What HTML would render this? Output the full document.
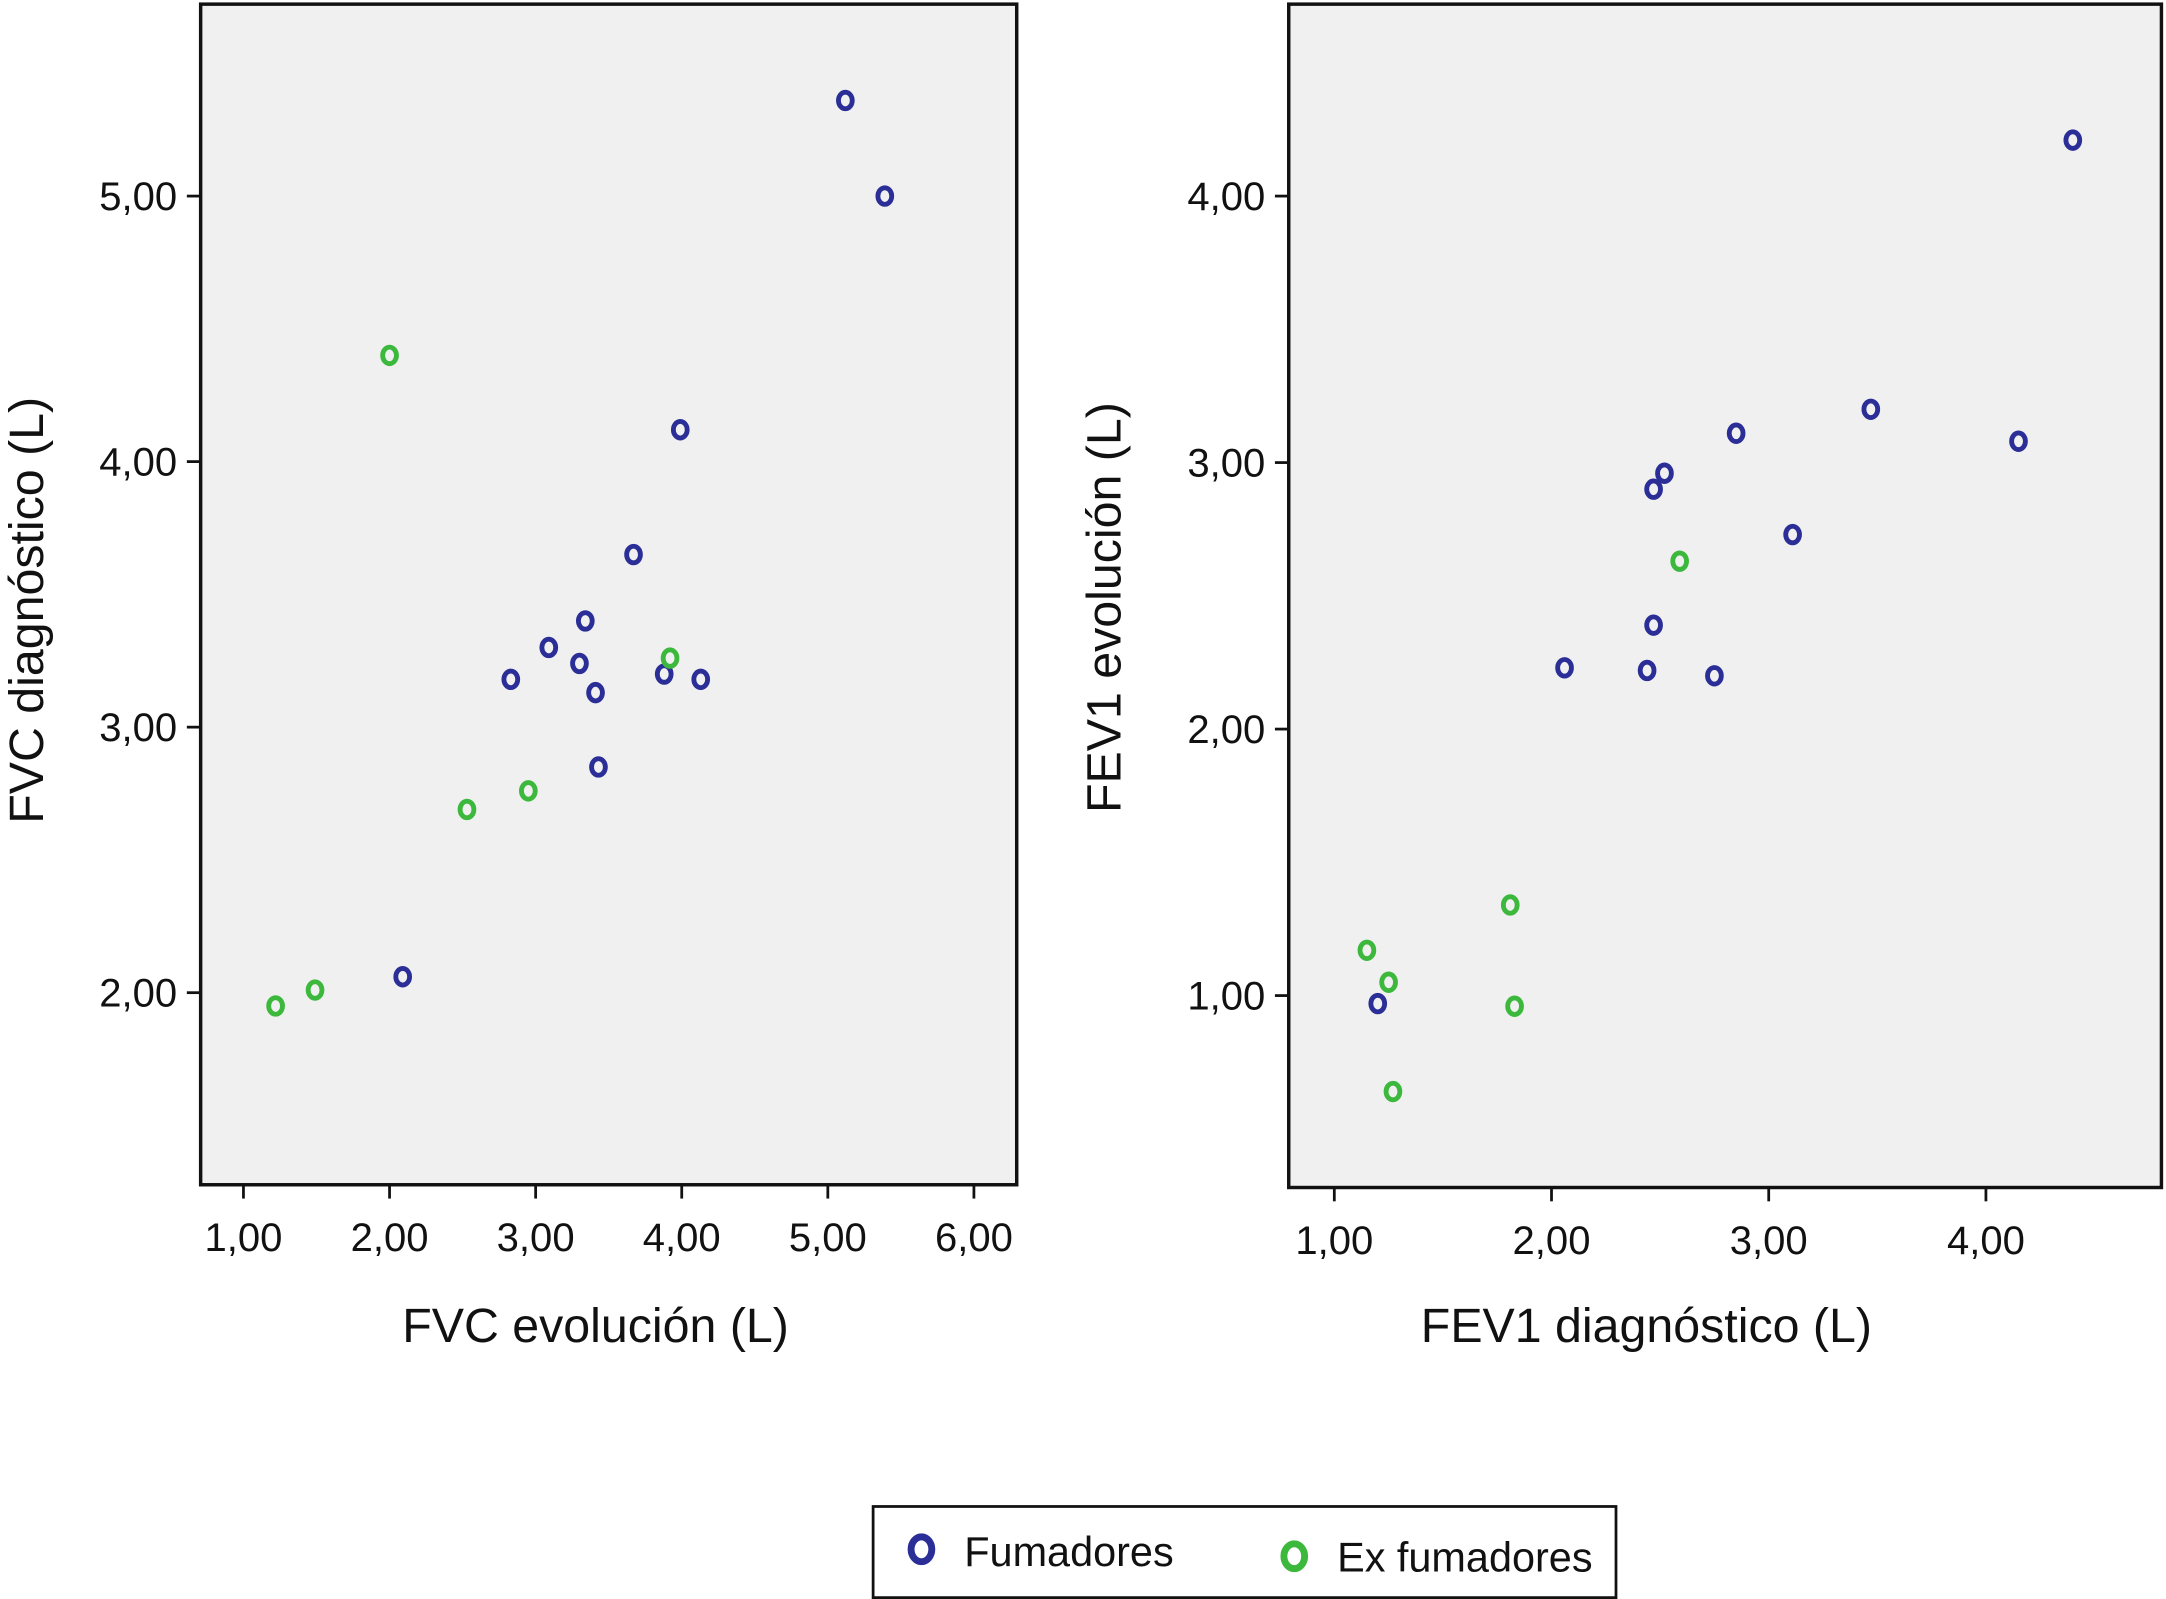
<!DOCTYPE html>
<html><head><meta charset="utf-8"><style>
html,body{margin:0;padding:0;background:#fff;}
svg{display:block;font-family:"Liberation Sans",sans-serif;}
</style></head><body>
<svg id="chart" width="2166" height="1599" viewBox="0 0 1568 1158" xmlns="http://www.w3.org/2000/svg">
<g id="left">
<rect x="145" y="3" width="591" height="855" fill="#f0f0f0" stroke="#111" stroke-width="2.5"/>
<text x="431" y="972" font-size="35" text-anchor="middle" fill="#111">FVC evolución (L)</text>
<text transform="translate(31,442) rotate(-90)" font-size="35" text-anchor="middle" fill="#111">FVC diagnóstico (L)</text>
</g>
<g id="right">
<rect x="933" y="3" width="632" height="857" fill="#f0f0f0" stroke="#111" stroke-width="2.5"/>
<text x="1192" y="972" font-size="35" text-anchor="middle" fill="#111">FEV1 diagnóstico (L)</text>
<text transform="translate(811,440) rotate(-90)" font-size="35" text-anchor="middle" fill="#111">FEV1 evolución (L)</text>
</g>
<g>
<rect x="632" y="1091" width="538" height="66" fill="#fff" stroke="#111" stroke-width="2"/>
<ellipse cx="667" cy="1122" rx="7.5" ry="9" fill="none" stroke="#2a2e96" stroke-width="5"/>
<text x="698" y="1134" font-size="30" fill="#111">Fumadores</text>
<ellipse cx="937" cy="1127" rx="7.5" ry="9" fill="none" stroke="#3cb83c" stroke-width="5"/>
<text x="968" y="1138" font-size="30" fill="#111">Ex fumadores</text>
</g>
</svg>
<script>
const fvcXTicks=[1,2,3,4,5,6];
const fvcYTicks=[2,3,4,5];
const fvcSmokerX=[5.12,5.39,3.99,3.67,3.34,3.09,3.30,2.83,3.41,3.88,4.13,3.43,2.09];
const fvcSmokerY=[5.36,5.00,4.12,3.65,3.40,3.30,3.24,3.18,3.13,3.20,3.18,2.85,2.06];
const fvcExX=[2.00,3.92,2.95,2.53,1.49,1.22];
const fvcExY=[4.40,3.26,2.76,2.69,2.01,1.95];
const fevXTicks=[1,2,3,4];
const fevYTicks=[1,2,3,4];
const fevSmokerX=[4.40,4.15,3.47,2.85,2.52,2.47,3.11,2.47,2.06,2.44,2.75,1.20];
const fevSmokerY=[4.21,3.08,3.20,3.11,2.96,2.90,2.73,2.39,2.23,2.22,2.20,0.97];
const fevExX=[2.59,1.81,1.15,1.25,1.83,1.27];
const fevExY=[2.63,1.34,1.17,1.05,0.96,0.64];

const NS="http://www.w3.org/2000/svg";
function mk(parent,tag,attrs){const e=document.createElementNS(NS,tag);for(const k in attrs)e.setAttribute(k,attrs[k]);parent.appendChild(e);return e;}
function fmt(v){return v.toFixed(2).replace('.',',');}

function drawPlot(gid,prefix,sx,sy,axisY,axisX,xt,yt,sets){
  const g=document.getElementById(gid);
  xt.forEach(v=>{
    const x=sx(v);
    const l=mk(g,'line',{x1:x,x2:x,y1:axisY,y2:axisY+10,stroke:'#111','stroke-width':2});
    
    
    const t=mk(g,'text',{x:x,y:axisY+48,'font-size':29,'text-anchor':'middle',fill:'#111'});
    t.textContent=fmt(v);
    
    
  });
  yt.forEach(v=>{
    const y=sy(v);
    const l=mk(g,'line',{x1:axisX-10,x2:axisX,y1:y,y2:y,stroke:'#111','stroke-width':2});
    
    
    const t=mk(g,'text',{x:axisX-17,y:y+10,'font-size':29,'text-anchor':'end',fill:'#111'});
    t.textContent=fmt(v);
    
    
  });
  sets.forEach(s=>{
    s.xs.forEach((xv,i)=>{
      const c=mk(g,'ellipse',{cx:sx(xv),cy:sy(s.ys[i]),rx:5,ry:6,fill:'none',stroke:s.color,'stroke-width':3.5});
      
      
    });
  });
}
drawPlot('left','fvc',v=>176+(v-1)*105.8,v=>142+(5-v)*192.3,858,145,fvcXTicks,fvcYTicks,[
  {xs:fvcSmokerX,ys:fvcSmokerY,color:'#2a2e96',name:'point-fumador'},
  {xs:fvcExX,ys:fvcExY,color:'#3cb83c',name:'point-ex-fumador'}]);
drawPlot('right','fev1',v=>966+(v-1)*157.3,v=>142+(4-v)*193,860,933,fevXTicks,fevYTicks,[
  {xs:fevSmokerX,ys:fevSmokerY,color:'#2a2e96',name:'point-fumador'},
  {xs:fevExX,ys:fevExY,color:'#3cb83c',name:'point-ex-fumador'}]);
</script>
</body></html>
